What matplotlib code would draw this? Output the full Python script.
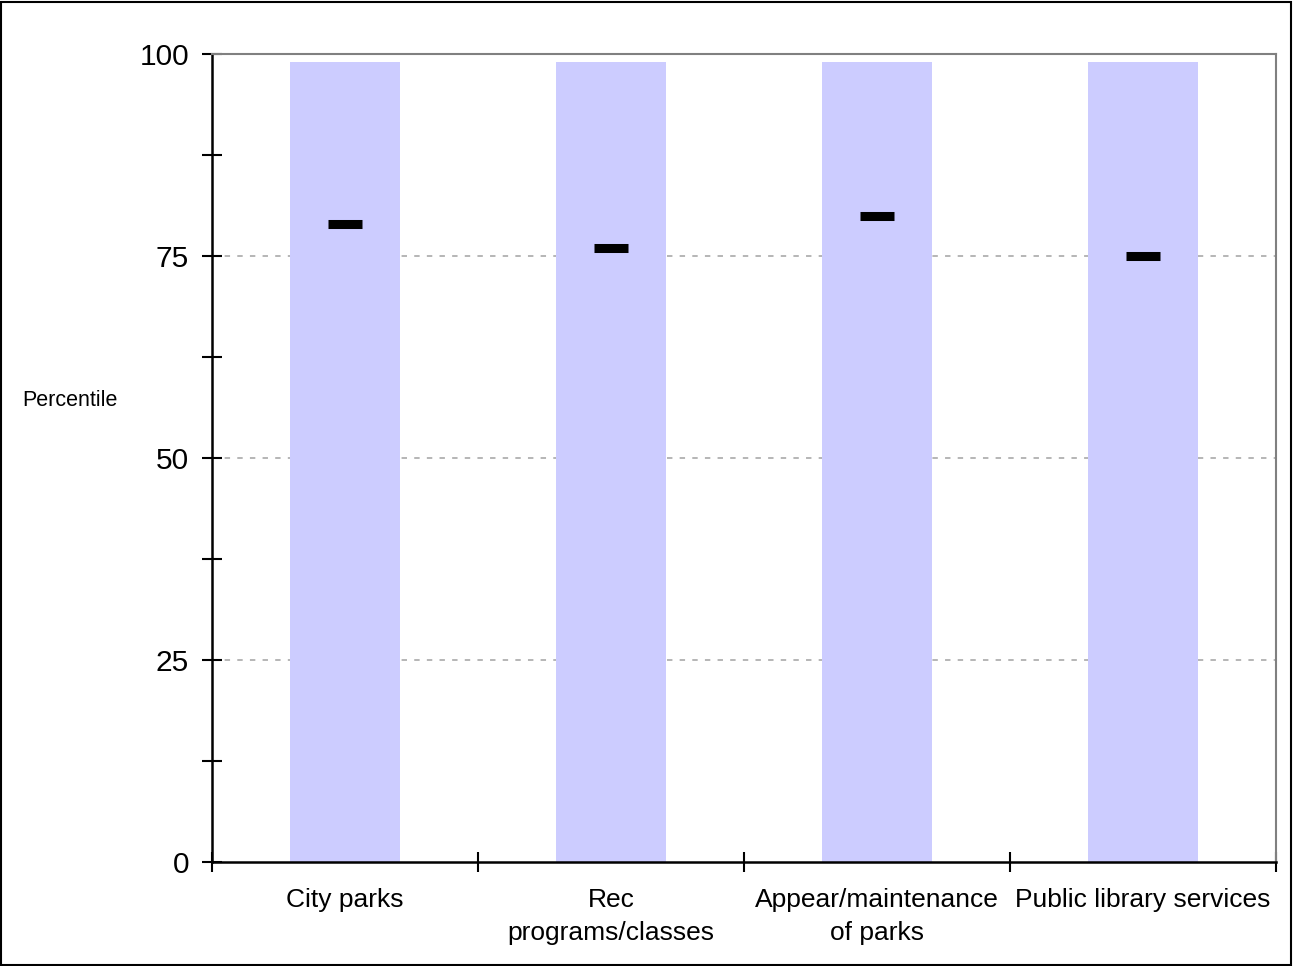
import matplotlib.pyplot as plt
import numpy as np
from matplotlib.patches import Rectangle

plt.rcParams['font.family'] = ['Liberation Sans', 'DejaVu Sans']

categories = ['City parks', 'Rec\nprograms/classes', 'Appear/maintenance\nof parks', 'Public library services']
bar_top = [99, 99, 99, 99]
percentile = [79, 76, 80, 75]

fig = plt.figure(figsize=(12.94, 9.66), dpi=100)
ax = fig.add_axes([212 / 1294, 1 - 862 / 966, (1276 - 212) / 1294, (862 - 54) / 966])

x = np.arange(len(categories)) + 0.5
ax.bar(x, bar_top, width=0.41, color='#ccccff', zorder=2)
ax.plot(x, percentile, linestyle='none', marker='_', markersize=24.5,
        markeredgewidth=6.5, color='black', zorder=3)

ax.set_xlim(0, 4)
ax.set_ylim(0, 100)

# gridlines
for yv in [25, 50, 75, 100]:
    ax.axhline(yv, color='#b0b0b0', linestyle=(0, (3, 4)), linewidth=1.3, zorder=1)

ax.set_yticks([0, 25, 50, 75, 100])
ax.set_yticks([12.5, 37.5, 62.5, 87.5], minor=True)
ax.tick_params(axis='y', which='both', direction='inout', length=14, width=1.5,
               labelsize=21.5, pad=9.5)
ax.set_xticks([0, 1, 2, 3, 4])
ax.set_xticklabels([])
ax.set_xticks(x, minor=True)
ax.set_xticklabels(categories, minor=True, fontsize=19, linespacing=1.45)
ax.tick_params(axis='x', which='major', direction='inout', length=14, width=1.5)
ax.tick_params(axis='x', which='minor', length=0, pad=19)

ax.spines['left'].set_linewidth(1.8)
ax.spines['bottom'].set_linewidth(1.8)
ax.spines['top'].set_color('#808080')
ax.spines['top'].set_linewidth(1.5)
ax.spines['right'].set_color('#808080')
ax.spines['right'].set_linewidth(1.5)

fig.text(70 / 1294, 1 - 400 / 966, 'Percentile', fontsize=15.5, ha='center', va='center')

# figure border
fig.patches.append(Rectangle((0.001, 0.001), 0.997, 0.997, transform=fig.transFigure,
                             fill=False, edgecolor='black', linewidth=1.5))

fig.savefig('out.png', dpi=100)
